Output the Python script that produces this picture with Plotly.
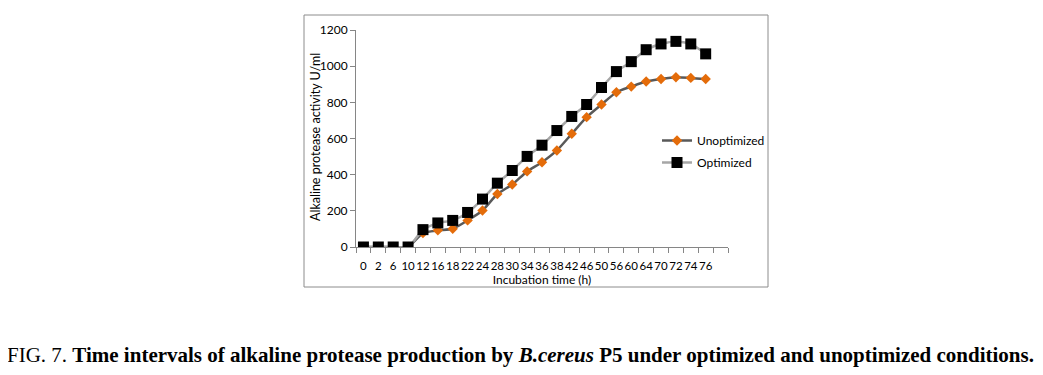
import plotly.graph_objects as go

time_h = ["0", "2", "6", "10", "12", "16", "18", "22", "24", "28", "30", "34",
          "36", "38", "42", "46", "50", "56", "60", "64", "70", "72", "74", "76"]
unoptimized = [0, 0, 0, 0, 77, 92, 101, 147, 202, 293, 346, 418,
               469, 534, 626, 718, 788, 856, 887, 915, 929, 939, 935, 929]
optimized = [0, 0, 0, 0, 96, 133, 147, 191, 265, 353, 423, 501,
             563, 644, 722, 788, 882, 970, 1025, 1091, 1123, 1137, 1123, 1068]
y_ticks = [0, 200, 400, 600, 800, 1000, 1200]
categories_all = time_h + [" "]

# page offset (body margin) of 8px
OFF = 8
W, H = 1043 - OFF, 375 - OFF
L, R, T, B = 356 - OFF, 728 - OFF, 30 - OFF, 247 - OFF

fig = go.Figure()
fig.add_trace(go.Scatter(
    x=time_h, y=unoptimized, name="Unoptimized", mode="lines+markers",
    legendgroup="u",
    line=dict(color="#595959", width=2.5, shape="spline", smoothing=0.6),
    marker=dict(symbol="diamond", size=8, color="#E46C0A"),
))
fig.add_trace(go.Scatter(
    x=time_h, y=optimized, name="Optimized", mode="lines+markers",
    legendgroup="o",
    line=dict(color="#A6A6A6", width=2.5, shape="spline", smoothing=0.6),
    marker=dict(symbol="square", size=11, color="#000000"),
))

def px(xp):
    return (xp - OFF - L) / (R - L)

def py(yp):
    return (B - (yp - OFF)) / (B - T)

fig.update_layout(
    width=W, height=H,
    margin=dict(l=L, r=W - R, t=T, b=H - B, pad=0, autoexpand=False),
    paper_bgcolor="white", plot_bgcolor="white",
    font=dict(family="Lato", size=11, color="#000000"),
    showlegend=True,
    legend=dict(x=px(657), y=py(126), xanchor="left", yanchor="top",
                bgcolor="rgba(0,0,0,0)", font=dict(family="Lato", size=12),
                itemwidth=30, tracegroupgap=3),
    xaxis=dict(
        type="category", categoryorder="array", categoryarray=categories_all,
        range=[-0.5, 24.5], showgrid=False, zeroline=False, automargin=False,
        showline=True, linecolor="#868686", linewidth=1,
        ticks="outside", tickson="boundaries", ticklen=5, tickcolor="#868686",
        tickangle=0, ticklabelstandoff=8,
        tickfont=dict(family="Lato", size=11.5, color="#000"),
        title=dict(text="Incubation time (h)", font=dict(family="Lato", size=12), standoff=1),
    ),
    yaxis=dict(
        range=[0, 1200], tickvals=y_ticks, showgrid=False, zeroline=False, automargin=False,
        showline=True, linecolor="#868686", linewidth=1,
        ticks="outside", ticklen=5, tickcolor="#868686",
        tickfont=dict(family="Lato", size=12, color="#000"),
    ),
)

# y-axis title
fig.add_annotation(
    xref="paper", yref="paper", x=px(315), y=py(137), xanchor="center", yanchor="middle",
    showarrow=False, textangle=-90,
    text="Alkaline protease activity U/ml",
    font=dict(family="Lato", size=12.5, color="#000"),
)

# chart frame
fig.add_shape(type="rect", xref="paper", yref="paper",
              x0=px(304), x1=px(768), y0=py(287), y1=py(15),
              line=dict(color="#8c8c8c", width=1), fillcolor="rgba(0,0,0,0)", layer="below")

fig.add_annotation(
    xref="paper", yref="paper", x=px(520), y=py(355), xanchor="center", yanchor="middle",
    showarrow=False,
    text="FIG. 7. <b>Time intervals of alkaline protease production by <i>B.cereus</i> P5 under optimized and unoptimized conditions.</b>",
    font=dict(family="Liberation Serif", size=21, color="#000"),
)

fig.write_html("out.html")
